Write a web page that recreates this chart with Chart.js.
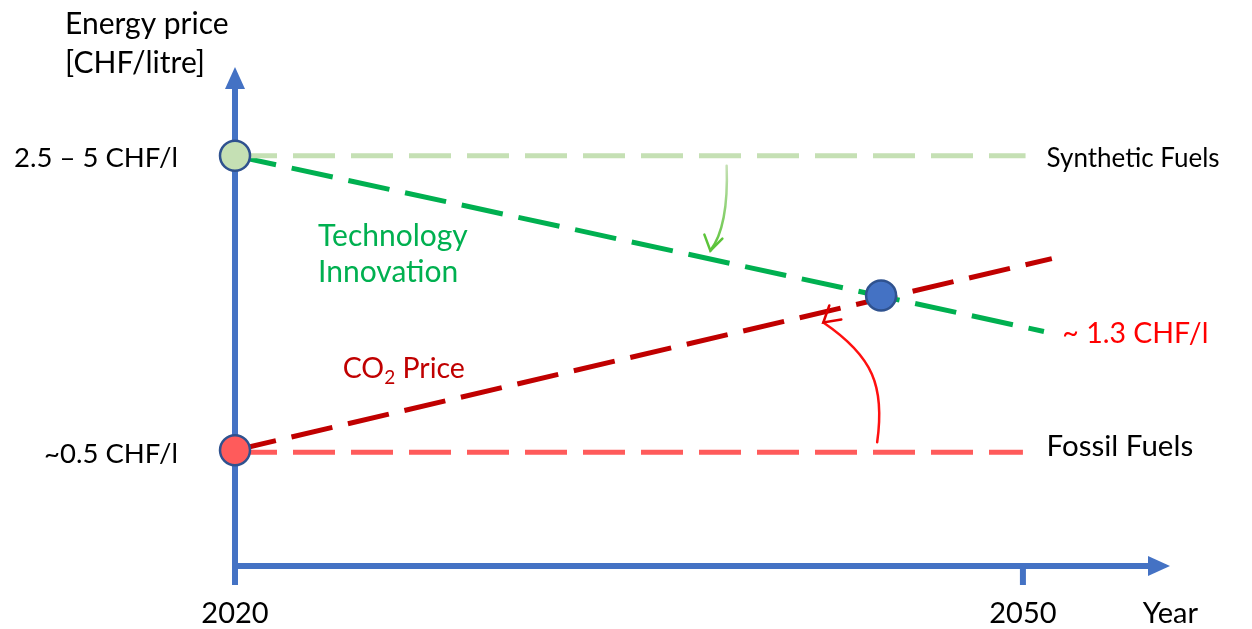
<!DOCTYPE html>
<html>
<head>
<meta charset="utf-8">
<script src="https://cdn.jsdelivr.net/npm/chart.js@4"></script>
<style>
  body { margin: 0; background: #fff; }
  #wrap { width: 1252px; height: 629px; }
</style>
</head>
<body>
<div id="wrap"><canvas id="energy-price"></canvas></div>
<script>
// x axis: years
const years = [2020, 2050];
const yearLabels = ["2020", "2050"];
// y axis: price levels (index units, 0 = axis)
const priceLevels = [4.11, 1.14];
const priceLabels = ["2.5 – 5 CHF/l", "~0.5 CHF/l"];

// Synthetic Fuels (flat)
const synthX = [2020, 2050.1];
const synthY = [4.11, 4.11];
// Technology Innovation (falling)
const techX = [2020, 2050.8];
const techY = [4.11, 2.35];
// CO2 Price (rising)
const co2X = [2020, 2051.1];
const co2Y = [1.16, 3.08];
// Fossil Fuels (flat)
const fossilX = [2020, 2050];
const fossilY = [1.14, 1.14];
// circle markers: synthetic start, fossil start, break-even
const markerX = [2020, 2020, 2044.6];
const markerY = [4.11, 1.16, 2.71];
const markerColors = ["#c5e0b4", "#ff5b5b", "#4472c4"];

const zip = (xs, ys) => xs.map((v, i) => ({ x: v, y: ys[i] }));

const AXIS = "#4472c4";
const FONT = "Lato, 'Open Sans', sans-serif";

function dashed(label, xs, ys, color) {
    return {
        label: label,
        data: zip(xs, ys),
        showLine: true,
        borderColor: color,
        borderWidth: 5,
        borderDash: [42, 16],
        pointRadius: 0,
        fill: false,
        clip: false,
        order: 2
    };
}

function text(ctx, str, x, y, size, color, align) {
    ctx.font = size + "px " + FONT;
    ctx.fillStyle = color;
    ctx.textAlign = align || "left";
    ctx.textBaseline = "middle";
    ctx.fillText(str, x, y);
}

const sketch = {
    id: "sketch",
    beforeDatasetsDraw(chart) {
        const ctx = chart.ctx;
        const xs = chart.scales.x, ys = chart.scales.y;
        const x0 = xs.getPixelForValue(2020);
        const y0 = ys.getPixelForValue(0);
        const xEnd = xs.getPixelForValue(xs.max);
        const yEnd = ys.getPixelForValue(ys.max);
        ctx.save();
        ctx.strokeStyle = AXIS;
        ctx.fillStyle = AXIS;
        ctx.lineWidth = 6;
        // y axis (runs a bit under the x axis, as the 2020 tick)
        ctx.beginPath();
        ctx.moveTo(x0, y0 + 19);
        ctx.lineTo(x0, yEnd + 20);
        ctx.stroke();
        ctx.beginPath();
        ctx.moveTo(x0, yEnd);
        ctx.lineTo(x0 - 10, yEnd + 22);
        ctx.lineTo(x0 + 10, yEnd + 22);
        ctx.closePath();
        ctx.fill();
        // x axis
        ctx.beginPath();
        ctx.moveTo(x0 - 3, y0);
        ctx.lineTo(xEnd - 20, y0);
        ctx.stroke();
        ctx.beginPath();
        ctx.moveTo(xEnd, y0);
        ctx.lineTo(xEnd - 22, y0 - 10);
        ctx.lineTo(xEnd - 22, y0 + 10);
        ctx.closePath();
        ctx.fill();
        // year ticks
        years.forEach(yr => {
            if (yr === 2020) return;
            const px = xs.getPixelForValue(yr);
            ctx.beginPath();
            ctx.moveTo(px, y0);
            ctx.lineTo(px, y0 + 19);
            ctx.stroke();
        });
        ctx.restore();
    },
    afterDatasetsDraw(chart) {
        const ctx = chart.ctx;
        const xs = chart.scales.x, ys = chart.scales.y;
        const px = v => xs.getPixelForValue(v);
        const py = v => ys.getPixelForValue(v);
        const x0 = px(2020), y0 = py(0);
        const xEnd = px(xs.max);
        ctx.save();

        // axis titles and tick labels
        text(ctx, "Energy price", x0 - 170, 24, 30, "#000");
        text(ctx, "[CHF/litre]", x0 - 170, 63, 30, "#000");
        priceLevels.forEach((v, i) => text(ctx, priceLabels[i], x0 - 57, py(v) + 2, 27.5, "#000", "right"));
        years.forEach((yr, i) => text(ctx, yearLabels[i], px(yr), y0 + 48, 29, "#000", "center"));
        text(ctx, "Year", xEnd + 28, y0 + 48, 29, "#000", "right");

        // series labels
        text(ctx, "Synthetic Fuels", px(2050.9), py(4.08), 26, "#000");
        text(ctx, "Fossil Fuels", px(2050.9), py(1.20), 29.5, "#000");
        text(ctx, "Technology", px(2023.16), py(3.30), 30, "#00b050");
        text(ctx, "Innovation", px(2023.16), py(2.94), 30, "#00b050");
        text(ctx, "~ 1.3 CHF/l", px(2051.5), py(2.33), 28.5, "#ff0000");
        // CO2 Price with subscript
        let cx = px(2024.1), cy = py(1.98);
        text(ctx, "CO", cx, cy, 28.5, "#c00000");
        cx += ctx.measureText("CO").width;
        text(ctx, "2", cx, cy + 9, 19, "#c00000");
        cx += ctx.measureText("2").width;
        text(ctx, " Price", cx, cy, 28.5, "#c00000");

        // green curved arrow: synthetic -> technology line
        ctx.lineWidth = 2.5;
        ctx.lineCap = "round";
        let sx = px(2038.72), sy = py(4.01), ex = px(2038.1), ey = py(3.16);
        const g = ctx.createLinearGradient(0, sy, 0, ey);
        g.addColorStop(0, "#c5e0b4");
        g.addColorStop(1, "#5cc43a");
        ctx.strokeStyle = g;
        ctx.beginPath();
        ctx.moveTo(sx, sy);
        ctx.quadraticCurveTo(px(2038.8), py(3.4), ex, ey);
        ctx.stroke();
        ctx.strokeStyle = "#5cc43a";
        ctx.beginPath();
        ctx.moveTo(ex - 6, ey - 16);
        ctx.lineTo(ex, ey);
        ctx.lineTo(ex + 12, ey - 12);
        ctx.stroke();

        // red curved arrow: fossil -> CO2 line
        sx = px(2044.45); sy = py(1.24); ex = px(2042.4); ey = py(2.44);
        ctx.strokeStyle = "#ff1010";
        ctx.beginPath();
        ctx.moveTo(sx, sy);
        ctx.bezierCurveTo(px(2044.75), py(1.8), px(2044.3), py(2.1), ex, ey);
        ctx.stroke();
        ctx.strokeStyle = "#e00000";
        ctx.beginPath();
        ctx.moveTo(ex + 18, ey - 3);
        ctx.lineTo(ex, ey);
        ctx.lineTo(ex + 6, ey - 17);
        ctx.stroke();

        ctx.restore();
    }
};

new Chart(document.getElementById("energy-price"), {
    type: "scatter",
    data: {
        datasets: [
            {
                label: "Markers",
                data: zip(markerX, markerY),
                pointRadius: 15,
                pointBackgroundColor: markerColors,
                pointBorderColor: "#2f528f",
                pointBorderWidth: 2.5,
                showLine: false,
                clip: false,
                order: 1
            },
            dashed("Synthetic Fuels", synthX, synthY, "#c5e0b4"),
            dashed("Fossil Fuels", fossilX, fossilY, "#ff5b5b"),
            dashed("Technology Innovation", techX, techY, "#00b050"),
            dashed("CO2 Price", co2X, co2Y, "#c00000")
        ]
    },
    options: {
        responsive: true,
        maintainAspectRatio: false,
        animation: false,
        layout: { padding: { left: 235, right: 82, top: 67, bottom: 63 } },
        scales: {
            x: { type: "linear", min: 2020, max: 2055.6, display: false },
            y: { type: "linear", min: 0, max: 5, display: false }
        },
        plugins: {
            legend: { display: false },
            tooltip: { enabled: false }
        }
    },
    plugins: [sketch]
});
</script>
</body>
</html>
